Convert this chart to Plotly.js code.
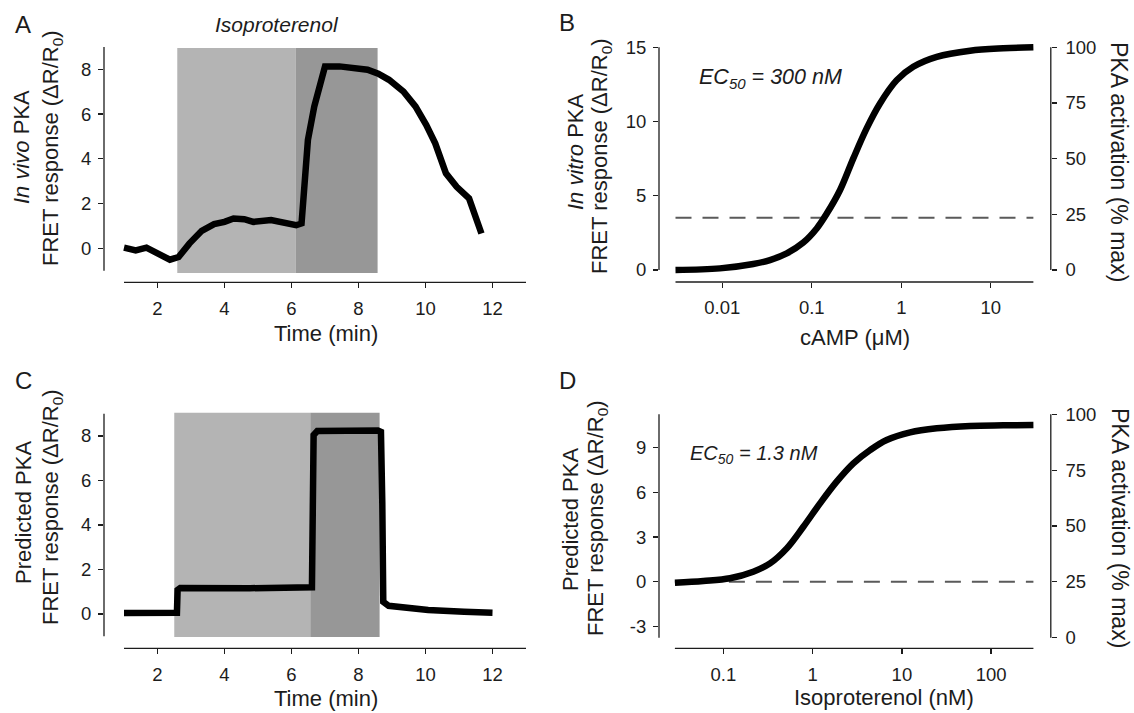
<!DOCTYPE html>
<html>
<head>
<meta charset="utf-8">
<script src="https://cdn.plot.ly/plotly-3.0.1.min.js"></script>
<style>html,body{margin:0;padding:0;background:#fff;}#chart{width:1134px;height:713px;}</style>
</head>
<body>
<div id="chart"></div>
<script>
// ---------- DATA ----------
// Panel A: in vivo PKA FRET response vs time
var timeA = [1.0, 1.35, 1.67, 1.99, 2.37, 2.63, 2.95, 3.32, 3.69, 4.0, 4.27, 4.59, 4.86, 5.39, 5.82, 6.14, 6.30, 6.40, 6.49, 6.68, 7.0, 7.43, 7.85, 8.0, 8.27, 8.59, 8.91, 9.34, 9.70, 10.02, 10.29, 10.61, 10.93, 11.30, 11.67];
var fretA = [0.03, -0.09, 0.03, -0.21, -0.51, -0.39, 0.21, 0.78, 1.08, 1.18, 1.33, 1.30, 1.18, 1.26, 1.11, 1.03, 1.11, 3.6, 4.84, 6.34, 8.13, 8.13, 8.06, 8.09, 7.98, 7.80, 7.53, 7.01, 6.34, 5.52, 4.69, 3.35, 2.75, 2.23, 0.66];
var isoLowA = [2.59, 6.13];
var isoHighA = [6.13, 8.57];
var shadeYA = [-1.1, 8.95];

// Panel B: in vitro PKA FRET response vs cAMP (uM)
var camp = [0.0030, 0.0094, 0.0222, 0.0341, 0.0525, 0.0804, 0.1135, 0.147, 0.207, 0.291, 0.41, 0.578, 0.889, 1.36, 2.49, 5.87, 13.8, 29.9];
var fretB = [0.0, 0.11, 0.40, 0.67, 1.12, 1.85, 2.80, 3.80, 5.39, 7.52, 9.54, 11.22, 12.79, 13.69, 14.36, 14.77, 14.93, 15.0];
var thresholdB = 23.5; // % max

// Panel C: predicted PKA FRET response vs time
var timeC = [1.0, 2.5, 2.58, 2.60, 2.68, 4.76, 6.58, 6.61, 6.66, 6.77, 8.58, 8.67, 8.71, 8.74, 8.90, 9.55, 10.08, 11.15, 12.0];
var fretC = [0.05, 0.05, 0.06, 1.08, 1.17, 1.16, 1.18, 1.2, 8.04, 8.22, 8.25, 8.19, 5.0, 0.55, 0.37, 0.25, 0.18, 0.10, 0.06];
var isoLowC = [2.50, 6.56];
var isoHighC = [6.56, 8.63];
var shadeYC = [-1.03, 9.05];

// Panel D: predicted PKA FRET response vs isoproterenol (nM)
var iso = [0.0286, 0.0596, 0.1186, 0.216, 0.333, 0.513, 0.787, 1.21, 1.86, 2.86, 4.40, 6.76, 12.4, 24.6, 58.2, 137, 298];
var fretD = [-0.07, 0.05, 0.23, 0.67, 1.23, 2.24, 3.69, 5.26, 6.72, 7.95, 8.84, 9.52, 10.03, 10.30, 10.46, 10.50, 10.52];
var thresholdD = 25; // % max

// tick labels
var timeTicks = [2, 4, 6, 8, 10, 12];
var fretTicksAC = [0, 2, 4, 6, 8];
var campTicks = [0.01, 0.1, 1, 10];
var campTickText = ['0.01', '0.1', '1', '10'];
var fretTicksB = [0, 5, 10, 15];
var isoTicks = [0.1, 1, 10, 100];
var isoTickText = ['0.1', '1', '10', '100'];
var fretTicksD = [-3, 0, 3, 6, 9];
var fretTickTextD = ['-3', '0', '3', '6', '9'];
var pctTicks = [0, 25, 50, 75, 100];

// ---------- LAYOUT HELPERS ----------
var W = 1134, H = 713;
function lin(p0, v0, p1, v1, p) { return v0 + (p - p0) * (v1 - v0) / (p1 - p0); }
function xdom(a, b) { return [a / W, b / W]; }
function ydom(top, bottom) { return [1 - bottom / H, 1 - top / H]; }
function yrange(p0, v0, p1, v1, top, bottom) { return [lin(p0, v0, p1, v1, bottom), lin(p0, v0, p1, v1, top)]; }
function xrange(p0, v0, p1, v1, left, right) { return [lin(p0, v0, p1, v1, left), lin(p0, v0, p1, v1, right)]; }

var INK = '#1c1c1c';
var FONT = 'Liberation Sans, Arial, Helvetica, sans-serif';
var tickFont = {family: FONT, size: 18.5, color: INK};

// geometry (pixels)
var gA = {l: 104, r: 535, t: 38, b: 282.3};
var gB = {l: 659, r: 1042, t: 35, b: 282};
var gC = {l: 104, r: 535, t: 404, b: 648.3};
var gD = {l: 659, r: 1042, t: 400, b: 648.3};

var xRangeAC = xrange(124, 1, 526, 13, gA.l, gA.r);
var yRangeA = yrange(248.3, 0, 69.3, 8, gA.t, gA.b);
var xRangeB = xrange(722.3, -2, 990.8, 1, gB.l, gB.r);
var yRangeB = yrange(270, 0, 47.3, 15, gB.t, gB.b);
var y2RangeB = yrange(270, 0, 47.3, 100, gB.t, gB.b);
var yRangeC = yrange(614, 0, 436, 8, gC.t, gC.b);
var xRangeD = xrange(723.4, -1, 991.1, 2, gD.l, gD.r);
var yRangeD = yrange(581.7, 0, 447.7, 9, gD.t, gD.b);
var y2RangeD = yrange(637.7, 0, 414.3, 100, gD.t, gD.b);

function baseAxis(extra) {
  var ax = {showgrid: false, zeroline: false, showline: false, ticks: 'outside', ticklen: 5,
            tickwidth: 1.3, tickcolor: INK, tickfont: tickFont, fixedrange: true};
  for (var k in extra) ax[k] = extra[k];
  return ax;
}

function logFrac(v, r) { return (Math.log10(v) - r[0]) / (r[1] - r[0]); }

var curve = {color: '#000', width: 6.5};
var smooth = {color: '#000', width: 6.5, shape: 'spline', smoothing: 1};
var dash = {color: '#5a5a5a', width: 2, dash: '16px,11px'};

var traces = [
  {x: timeA, y: fretA, xaxis: 'x', yaxis: 'y', mode: 'lines', line: curve, hoverinfo: 'skip'},
  {x: [camp[0], camp[camp.length - 1]], y: [thresholdB, thresholdB], xaxis: 'x2', yaxis: 'y3', mode: 'lines', line: dash, hoverinfo: 'skip'},
  {x: camp, y: fretB, xaxis: 'x2', yaxis: 'y2', mode: 'lines', line: smooth, hoverinfo: 'skip'},
  {x: timeC, y: fretC, xaxis: 'x3', yaxis: 'y4', mode: 'lines', line: curve, hoverinfo: 'skip'},
  {x: [iso[0], iso[iso.length - 1]], y: [thresholdD, thresholdD], xaxis: 'x4', yaxis: 'y6', mode: 'lines', line: dash, hoverinfo: 'skip'},
  {x: iso, y: fretD, xaxis: 'x4', yaxis: 'y5', mode: 'lines', line: smooth, hoverinfo: 'skip'}
];

var axLine = {color: INK, width: 1.3};
var shapes = [
  // stimulus shading
  {type: 'rect', xref: 'x', yref: 'y', x0: isoLowA[0], x1: isoLowA[1], y0: shadeYA[0], y1: shadeYA[1], fillcolor: '#b4b4b4', line: {width: 0}, layer: 'below'},
  {type: 'rect', xref: 'x', yref: 'y', x0: isoHighA[0], x1: isoHighA[1], y0: shadeYA[0], y1: shadeYA[1], fillcolor: '#979797', line: {width: 0}, layer: 'below'},
  {type: 'rect', xref: 'x3', yref: 'y4', x0: isoLowC[0], x1: isoLowC[1], y0: shadeYC[0], y1: shadeYC[1], fillcolor: '#b4b4b4', line: {width: 0}, layer: 'below'},
  {type: 'rect', xref: 'x3', yref: 'y4', x0: isoHighC[0], x1: isoHighC[1], y0: shadeYC[0], y1: shadeYC[1], fillcolor: '#979797', line: {width: 0}, layer: 'below'},
  // axis lines A
  {type: 'line', xref: 'x domain', yref: 'y', x0: 0, x1: 0, y0: -1, y1: 9, line: axLine},
  {type: 'line', xref: 'x', yref: 'y domain', x0: 1, x1: 13, y0: 0, y1: 0, line: axLine},
  // axis lines C
  {type: 'line', xref: 'x3 domain', yref: 'y4', x0: 0, x1: 0, y0: -1, y1: 9, line: axLine},
  {type: 'line', xref: 'x3', yref: 'y4 domain', x0: 1, x1: 13, y0: 0, y1: 0, line: axLine},
  // axis lines B
  {type: 'line', xref: 'x2 domain', yref: 'y2', x0: 0, x1: 0, y0: 0, y1: 15, line: axLine},
  {type: 'line', xref: 'paper', yref: 'y3', x0: 1050.8 / W, x1: 1050.8 / W, y0: 0, y1: 100, line: axLine},
  {type: 'line', xref: 'x2 domain', yref: 'y2 domain', x0: logFrac(camp[0], xRangeB), x1: logFrac(camp[camp.length - 1], xRangeB), y0: 0, y1: 0, line: axLine},
  // axis lines D
  {type: 'line', xref: 'x4 domain', yref: 'y6', x0: 0, x1: 0, y0: 0, y1: 100, line: axLine},
  {type: 'line', xref: 'paper', yref: 'y6', x0: 1050.8 / W, x1: 1050.8 / W, y0: 0, y1: 100, line: axLine},
  {type: 'line', xref: 'x4 domain', yref: 'y5 domain', x0: logFrac(iso[0], xRangeD), x1: logFrac(iso[iso.length - 1], xRangeD), y0: 0, y1: 0, line: axLine}
];

function ann(text, px, py, size, angle, anchor) {
  return {text: text, xref: 'paper', yref: 'paper', x: px / W, y: 1 - py / H, showarrow: false,
          xanchor: anchor || 'center', yanchor: 'middle', textangle: angle || 0,
          font: {family: FONT, size: size, color: INK}};
}

var T = 22;
var annotations = [
  ann('A', 23, 24, 24), ann('B', 567, 23, 24), ann('C', 23, 380, 24), ann('D', 567, 380, 24),
  ann('<i>Isoproterenol</i>', 277, 24, 21),
  // A titles
  ann('<i>In vivo</i> PKA', 22, 147, T, -90),
  ann('FRET response (ΔR/R<sub>0</sub>)', 52, 148, T, -90),
  ann('Time (min)', 326, 333, T),
  // B titles
  ann('<i>In vitro</i> PKA', 575, 152, T, -90),
  ann('FRET response (ΔR/R<sub>0</sub>)', 601, 156, T, -90),
  ann('PKA activation (% max)', 1119, 162, 23, 90),
  ann('cAMP (μM)', 855, 337, T),
  ann('<i>EC<sub>50</sub> = 300 nM</i>', 697, 79, 21.5, 0, 'left'),
  // C titles
  ann('Predicted PKA', 23, 513, T, -90),
  ann('FRET response (ΔR/R<sub>0</sub>)', 52, 507, T, -90),
  ann('Time (min)', 326, 698, T),
  // D titles
  ann('Predicted PKA', 570, 520, T, -90),
  ann('FRET response (ΔR/R<sub>0</sub>)', 597, 518, T, -90),
  ann('PKA activation (% max)', 1120, 528, 23, 90),
  ann('Isoproterenol (nM)', 884, 697, T),
  ann('<i>EC<sub>50</sub> = 1.3 nM</i>', 688, 455, 20, 0, 'left')
];

var layout = {
  width: W, height: H, margin: {l: 0, r: 0, t: 0, b: 0}, showlegend: false,
  paper_bgcolor: '#fff', plot_bgcolor: 'rgba(0,0,0,0)',
  font: {family: FONT, color: INK},
  xaxis: baseAxis({domain: xdom(gA.l, gA.r), range: xRangeAC, anchor: 'y', tickvals: timeTicks, ticklabelstandoff: 4}),
  yaxis: baseAxis({domain: ydom(gA.t, gA.b), range: yRangeA, anchor: 'x', tickvals: fretTicksAC, ticklabelstandoff: 3}),
  xaxis2: baseAxis({domain: xdom(gB.l, gB.r), type: 'log', range: xRangeB, anchor: 'y3', tickvals: campTicks, ticktext: campTickText, ticklabelstandoff: 4}),
  yaxis2: baseAxis({domain: ydom(gB.t, gB.b), range: yRangeB, anchor: 'x2', overlaying: 'y3', side: 'left', tickvals: fretTicksB, ticklabelstandoff: 3}),
  yaxis3: baseAxis({domain: ydom(gB.t, gB.b), range: y2RangeB, anchor: 'free', position: 1050.8 / W, side: 'right', tickvals: pctTicks, ticklabelstandoff: 5}),
  xaxis3: baseAxis({domain: xdom(gC.l, gC.r), range: xRangeAC, anchor: 'y4', tickvals: timeTicks, ticklabelstandoff: 4}),
  yaxis4: baseAxis({domain: ydom(gC.t, gC.b), range: yRangeC, anchor: 'x3', tickvals: fretTicksAC, ticklabelstandoff: 3}),
  xaxis4: baseAxis({domain: xdom(gD.l, gD.r), type: 'log', range: xRangeD, anchor: 'y6', tickvals: isoTicks, ticktext: isoTickText, ticklabelstandoff: 4}),
  yaxis5: baseAxis({domain: ydom(gD.t, gD.b), range: yRangeD, anchor: 'x4', overlaying: 'y6', side: 'left', tickvals: fretTicksD, ticktext: fretTickTextD, ticklabelstandoff: 3}),
  yaxis6: baseAxis({domain: ydom(gD.t, gD.b), range: y2RangeD, anchor: 'free', position: 1050.8 / W, side: 'right', tickvals: pctTicks, ticklabelstandoff: 5}),
  shapes: shapes,
  annotations: annotations
};

Plotly.newPlot('chart', traces, layout, {displayModeBar: false, staticPlot: true}).then(function (gd) {
  // drop empty / zero-size placeholder text nodes and the off-screen measuring svg
  var texts = document.querySelectorAll('text');
  for (var i = 0; i < texts.length; i++) {
    var t = texts[i], bb = null;
    try { bb = t.getBBox(); } catch (e) {}
    if (!t.textContent.trim() || (bb && (bb.width === 0 || bb.height === 0))) t.parentNode.removeChild(t);
  }
  var testers = document.querySelectorAll('.js-plotly-tester');
  for (var j = 0; j < testers.length; j++) testers[j].parentNode.removeChild(testers[j]);
});
</script>
</body>
</html>
